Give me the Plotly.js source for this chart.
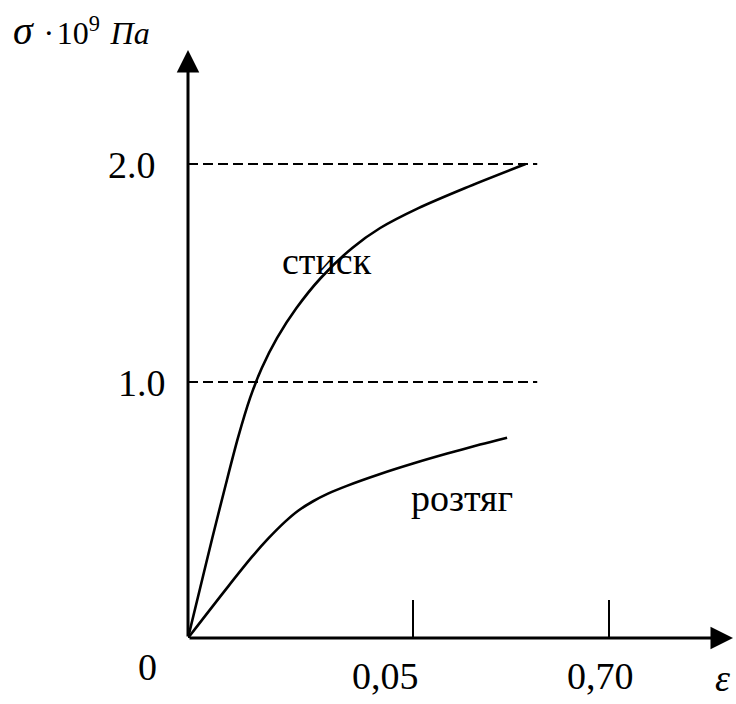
<!DOCTYPE html>
<html>
<head>
<meta charset="utf-8">
<script src="https://cdn.plot.ly/plotly-3.0.1.min.js"></script>
<style>html,body{margin:0;padding:0;background:#fff;}#chart{width:736px;height:704px;}</style>
</head>
<body>
<div id="chart"></div>
<script>
// strain (ε) and stress (σ·10^9 Па)
const compressionEps = [0, 0.0027, 0.0054, 0.0082, 0.0111, 0.0138, 0.0164, 0.0198, 0.0241, 0.0295, 0.0365, 0.0427, 0.0512, 0.0616, 0.0750];
const compressionSig = [0, 0.211, 0.422, 0.633, 0.844, 1.013, 1.139, 1.266, 1.392, 1.519, 1.646, 1.730, 1.814, 1.899, 2.000];
const tensionEps = [0, 0.0089, 0.0142, 0.0178, 0.0216, 0.0244, 0.0278, 0.0311, 0.0353, 0.0427, 0.0500, 0.0576, 0.0649, 0.0709];
const tensionSig = [0, 0.217, 0.342, 0.419, 0.491, 0.536, 0.577, 0.609, 0.642, 0.692, 0.736, 0.778, 0.816, 0.845];

const xTickVals = [0.05, 0.0936];
const xTickText = ['0,05', '0,70'];
const xTickShift = [-28, -9];
const yTickVals = [1.08, 2.0];
const yTickText = ['1.0', '2.0'];
const yTickShift = [-20, -30];
const dashEnd = 0.0776;
const xMax = 0.1211, yMax = 2.481;

const FONT = '"Liberation Serif", "Times New Roman", serif';
const black = '#000';

const traces = [
  {x: compressionEps, y: compressionSig, mode: 'lines', line: {color: black, width: 2.6, shape: 'spline', smoothing: 0.8, simplify: false}, hoverinfo: 'skip'},
  {x: tensionEps, y: tensionSig, mode: 'lines', line: {color: black, width: 2.6, shape: 'spline', smoothing: 0.8, simplify: false}, hoverinfo: 'skip'}
];

const shapes = yTickVals.map(v => ({
  type: 'line', xref: 'x', yref: 'y', x0: 0, x1: dashEnd, y0: v, y1: v,
  line: {color: black, width: 2, dash: '10px,5px'}
}));

const annotations = [
  // axis arrows
  {x: xMax, y: 0, ax: 0, ay: 0, axref: 'x', ayref: 'y', xref: 'x', yref: 'y', text: '', showarrow: true,
   arrowhead: 2, arrowwidth: 3, arrowsize: 1.5, arrowcolor: black},
  {x: 0, y: yMax, ax: 0, ay: 0, axref: 'x', ayref: 'y', xref: 'x', yref: 'y', text: '', showarrow: true,
   arrowhead: 2, arrowwidth: 3, arrowsize: 1.5, arrowcolor: black},
  // labels
  {x: 0, y: 0, xref: 'x', yref: 'y', text: '0', showarrow: false, xanchor: 'center', yanchor: 'middle', xshift: -41, yshift: -29, font: {family: FONT, size: 38, color: black}},
  {x: 0.0309, y: 1.59, xref: 'x', yref: 'y', text: 'стиск', showarrow: false, xanchor: 'center', yanchor: 'middle', font: {family: FONT, size: 38, color: black}},
  {x: 0.0609, y: 0.59, xref: 'x', yref: 'y', text: 'розтяг', showarrow: false, xanchor: 'center', yanchor: 'middle', font: {family: FONT, size: 38, color: black}},
  {x: 722/736, y: 1/704, xref: 'paper', yref: 'paper', text: '<i>ε</i>', showarrow: false, xanchor: 'center', yanchor: 'bottom', yshift: -64, font: {family: FONT, size: 38, color: black}}
];
xTickVals.forEach((v, i) => annotations.push({x: v, y: 0, xref: 'x', yref: 'y', text: xTickText[i], showarrow: false,
  xanchor: 'center', yanchor: 'middle', xshift: xTickShift[i], yshift: -38, font: {family: FONT, size: 38, color: black}}));
yTickVals.forEach((v, i) => annotations.push({x: 0, y: v, xref: 'x', yref: 'y', text: yTickText[i], showarrow: false,
  xanchor: 'right', yanchor: 'middle', xshift: yTickShift[i], yshift: -1, font: {family: FONT, size: 38, color: black}}));

const layout = {
  width: 736, height: 704,
  margin: {l: 188, r: 3, t: 50, b: 66},
  paper_bgcolor: '#fff', plot_bgcolor: '#fff',
  showlegend: false,
  title: {text: '<span style="font-size:40px"><i>σ</i></span>\u00a0\u200a·\u200a10<sup>9</sup>\u00a0\u200a<i>Па</i>', x: 13/736, xanchor: 'left', xref: 'container', yref: 'container', y: 1 - 33/704, yanchor: 'middle',
          font: {family: FONT, size: 32, color: black}},
  xaxis: {range: [0, xMax], showgrid: false, zeroline: false, showline: false, ticks: 'inside', ticklen: 38, tickwidth: 2, tickcolor: black,
          tickvals: xTickVals, showticklabels: false, fixedrange: true},
  yaxis: {range: [0, yMax], showgrid: false, zeroline: false, showline: false, ticks: '', tickvals: yTickVals, showticklabels: false, fixedrange: true},
  shapes: shapes,
  annotations: annotations
};

Plotly.newPlot('chart', traces, layout, {staticPlot: true});
</script>
</body>
</html>
